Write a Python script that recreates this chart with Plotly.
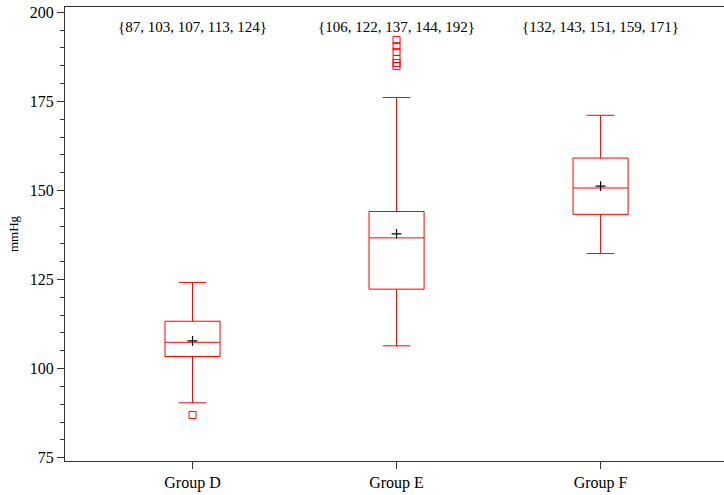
import plotly.graph_objects as go

# ---- data ----
groups = ["Group D", "Group E", "Group F"]
positions = [0, 1, 2]
lower_whisker = [90.4, 106.4, 132.3]
q1 = [103.4, 122.3, 143.3]
median = [107.4, 136.7, 150.7]
q3 = [113.3, 144.1, 159.1]
upper_whisker = [124.2, 176.1, 171.1]
means = [107.8, 137.8, 151.2]
outlier_x = [0, 1, 1, 1, 1, 1, 1]
outlier_y = [87.0, 192.2, 190.5, 188.9, 186.9, 185.8, 184.9]
summary_text = ["{87, 103, 107, 113, 124}", "{106, 122, 137, 144, 192}", "{132, 143, 151, 159, 171}"]
summary_y = 195.9

FONT = "Liberation Serif, Times New Roman, serif"
RED = "#ff0000"
AXIS = "#333333"

fig = go.Figure()

fig.add_trace(go.Box(
    x=positions,
    q1=q1, median=median, q3=q3,
    lowerfence=lower_whisker, upperfence=upper_whisker,
    width=0.27, whiskerwidth=0.5,
    boxpoints=False,
    line=dict(color=RED, width=1),
    fillcolor="rgba(0,0,0,0)",
    showlegend=False,
))

fig.add_trace(go.Scatter(
    x=outlier_x, y=outlier_y, mode="markers",
    marker=dict(symbol="square-open", size=7, color=RED, line=dict(color=RED, width=1)),
    showlegend=False,
))

fig.add_trace(go.Scatter(
    x=positions, y=means, mode="markers",
    marker=dict(symbol="cross-thin-open", size=7, color="black", line=dict(color="black", width=1.2)),
    showlegend=False,
))

for xp, txt in zip(positions, summary_text):
    fig.add_annotation(x=xp, y=summary_y, xref="x", yref="y", text=txt, showarrow=False,
                       font=dict(family=FONT, size=15, color="black"))

fig.update_layout(
    width=724, height=495,
    margin=dict(l=65, r=0, t=7, b=34),
    paper_bgcolor="white", plot_bgcolor="white",
    font=dict(family=FONT, color="black"),
    showlegend=False,
)

fig.update_xaxes(
    range=[-0.625, 2.605],
    tickmode="array", tickvals=positions, ticktext=groups,
    ticks="outside", ticklen=7, tickcolor=AXIS, tickwidth=1,
    showline=True, linecolor=AXIS, linewidth=1, mirror=True,
    showgrid=False, zeroline=False,
    tickfont=dict(family=FONT, size=16, color="black"),
)

fig.update_yaxes(
    range=[74.07, 201.5],
    tickmode="linear", tick0=75, dtick=25,
    ticks="outside", ticklen=7, tickcolor=AXIS, tickwidth=1,
    minor=dict(dtick=5, tick0=75, ticks="outside", ticklen=4, tickcolor=AXIS, showgrid=False),
    showline=True, linecolor=AXIS, linewidth=1,
    showgrid=False, zeroline=False,
    tickfont=dict(family=FONT, size=16, color="black"),
    title=dict(text="mmHg", font=dict(family=FONT, size=13, color="black"), standoff=8),
)

fig.write_html("out.html", config={"displayModeBar": False},
               post_script="document.body.style.margin='0';")
